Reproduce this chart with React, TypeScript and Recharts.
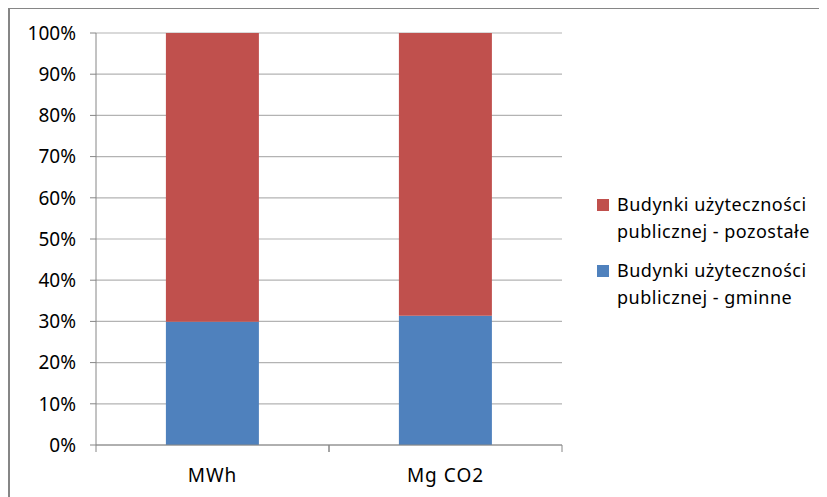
import React from 'react';
import { BarChart, Bar, XAxis, YAxis, CartesianGrid } from 'recharts';

const categories = ['MWh', 'Mg CO2'];
const gminne = [29.9, 31.4];
const pozostale = [70.1, 68.6];
const yTicks = [0, 10, 20, 30, 40, 50, 60, 70, 80, 90, 100];

const SERIES = [
  { key: 'pozostale', lines: ['Budynki użyteczności', 'publicznej - pozostałe'], color: '#C0504D' },
  { key: 'gminne', lines: ['Budynki użyteczności', 'publicznej - gminne'], color: '#4F81BD' },
];

const data = categories.map((c, i) => ({ name: c, gminne: gminne[i], pozostale: pozostale[i] }));

const FONT = '"Noto Sans", sans-serif';

const XTick = (props: any) => {
  const { x, y, payload } = props;
  const half = payload.offset || 0;
  return (
    <g>
      <line x1={x - half} y1={y - 8} x2={x - half} y2={y - 1} stroke="#868686" />
      <line x1={x + half} y1={y - 8} x2={x + half} y2={y - 1} stroke="#868686" />
      <text
        x={x}
        y={y + 29}
        textAnchor="middle"
        fontSize={19}
        letterSpacing={1}
        fill="#000"
        fontFamily={FONT}
      >
        {payload.value}
      </text>
    </g>
  );
};

const LegendBox = () => (
  <div
    style={{
      position: 'absolute',
      left: 587,
      top: 182,
      fontFamily: FONT,
      fontSize: 18,
      letterSpacing: 0.5,
      color: '#000',
      lineHeight: '27px',
      whiteSpace: 'nowrap',
    }}
  >
    {SERIES.map((s, i) => (
      <div key={s.key} style={{ position: 'relative', paddingLeft: 20, marginTop: i ? 12 : 0 }}>
        <span
          style={{
            position: 'absolute',
            left: 0,
            top: 8,
            width: 12,
            height: 12,
            background: s.color,
          }}
        />
        {s.lines.map((l) => (
          <div key={l}>{l}</div>
        ))}
      </div>
    ))}
  </div>
);

const App: React.FC = () => {
  return (
    <div
      style={{
        position: 'relative',
        width: 819,
        height: 490,
        marginTop: -1,
        borderTop: '2px solid #868686',
        borderLeft: '2px solid #868686',
        background: '#fff',
      }}
    >
      <BarChart
        width={817}
        height={488}
        data={data}
        margin={{ top: 24, right: 265, left: 0, bottom: 12 }}
        barCategoryGap="30%"
      >
        <CartesianGrid horizontal vertical={false} stroke="#B3B3B3" strokeWidth={1.2} />
        <XAxis
          dataKey="name"
          axisLine={{ stroke: '#868686' }}
          tickLine={false}
          tick={<XTick />}
          height={40}
          interval={0}
        />
        <YAxis
          width={86}
          domain={[0, 100]}
          ticks={yTicks}
          interval={0}
          tickFormatter={(v: number) => `${v}%`}
          axisLine={{ stroke: '#868686' }}
          tickLine={{ stroke: '#868686' }}
          tickSize={6}
          tickMargin={14}
          tick={{ fontSize: 19, fill: '#000', fontFamily: FONT }}
        />
        <Bar dataKey="gminne" stackId="a" fill="#4F81BD" isAnimationActive={false} />
        <Bar dataKey="pozostale" stackId="a" fill="#C0504D" isAnimationActive={false} />
      </BarChart>
      <LegendBox />
    </div>
  );
};

export default App;
